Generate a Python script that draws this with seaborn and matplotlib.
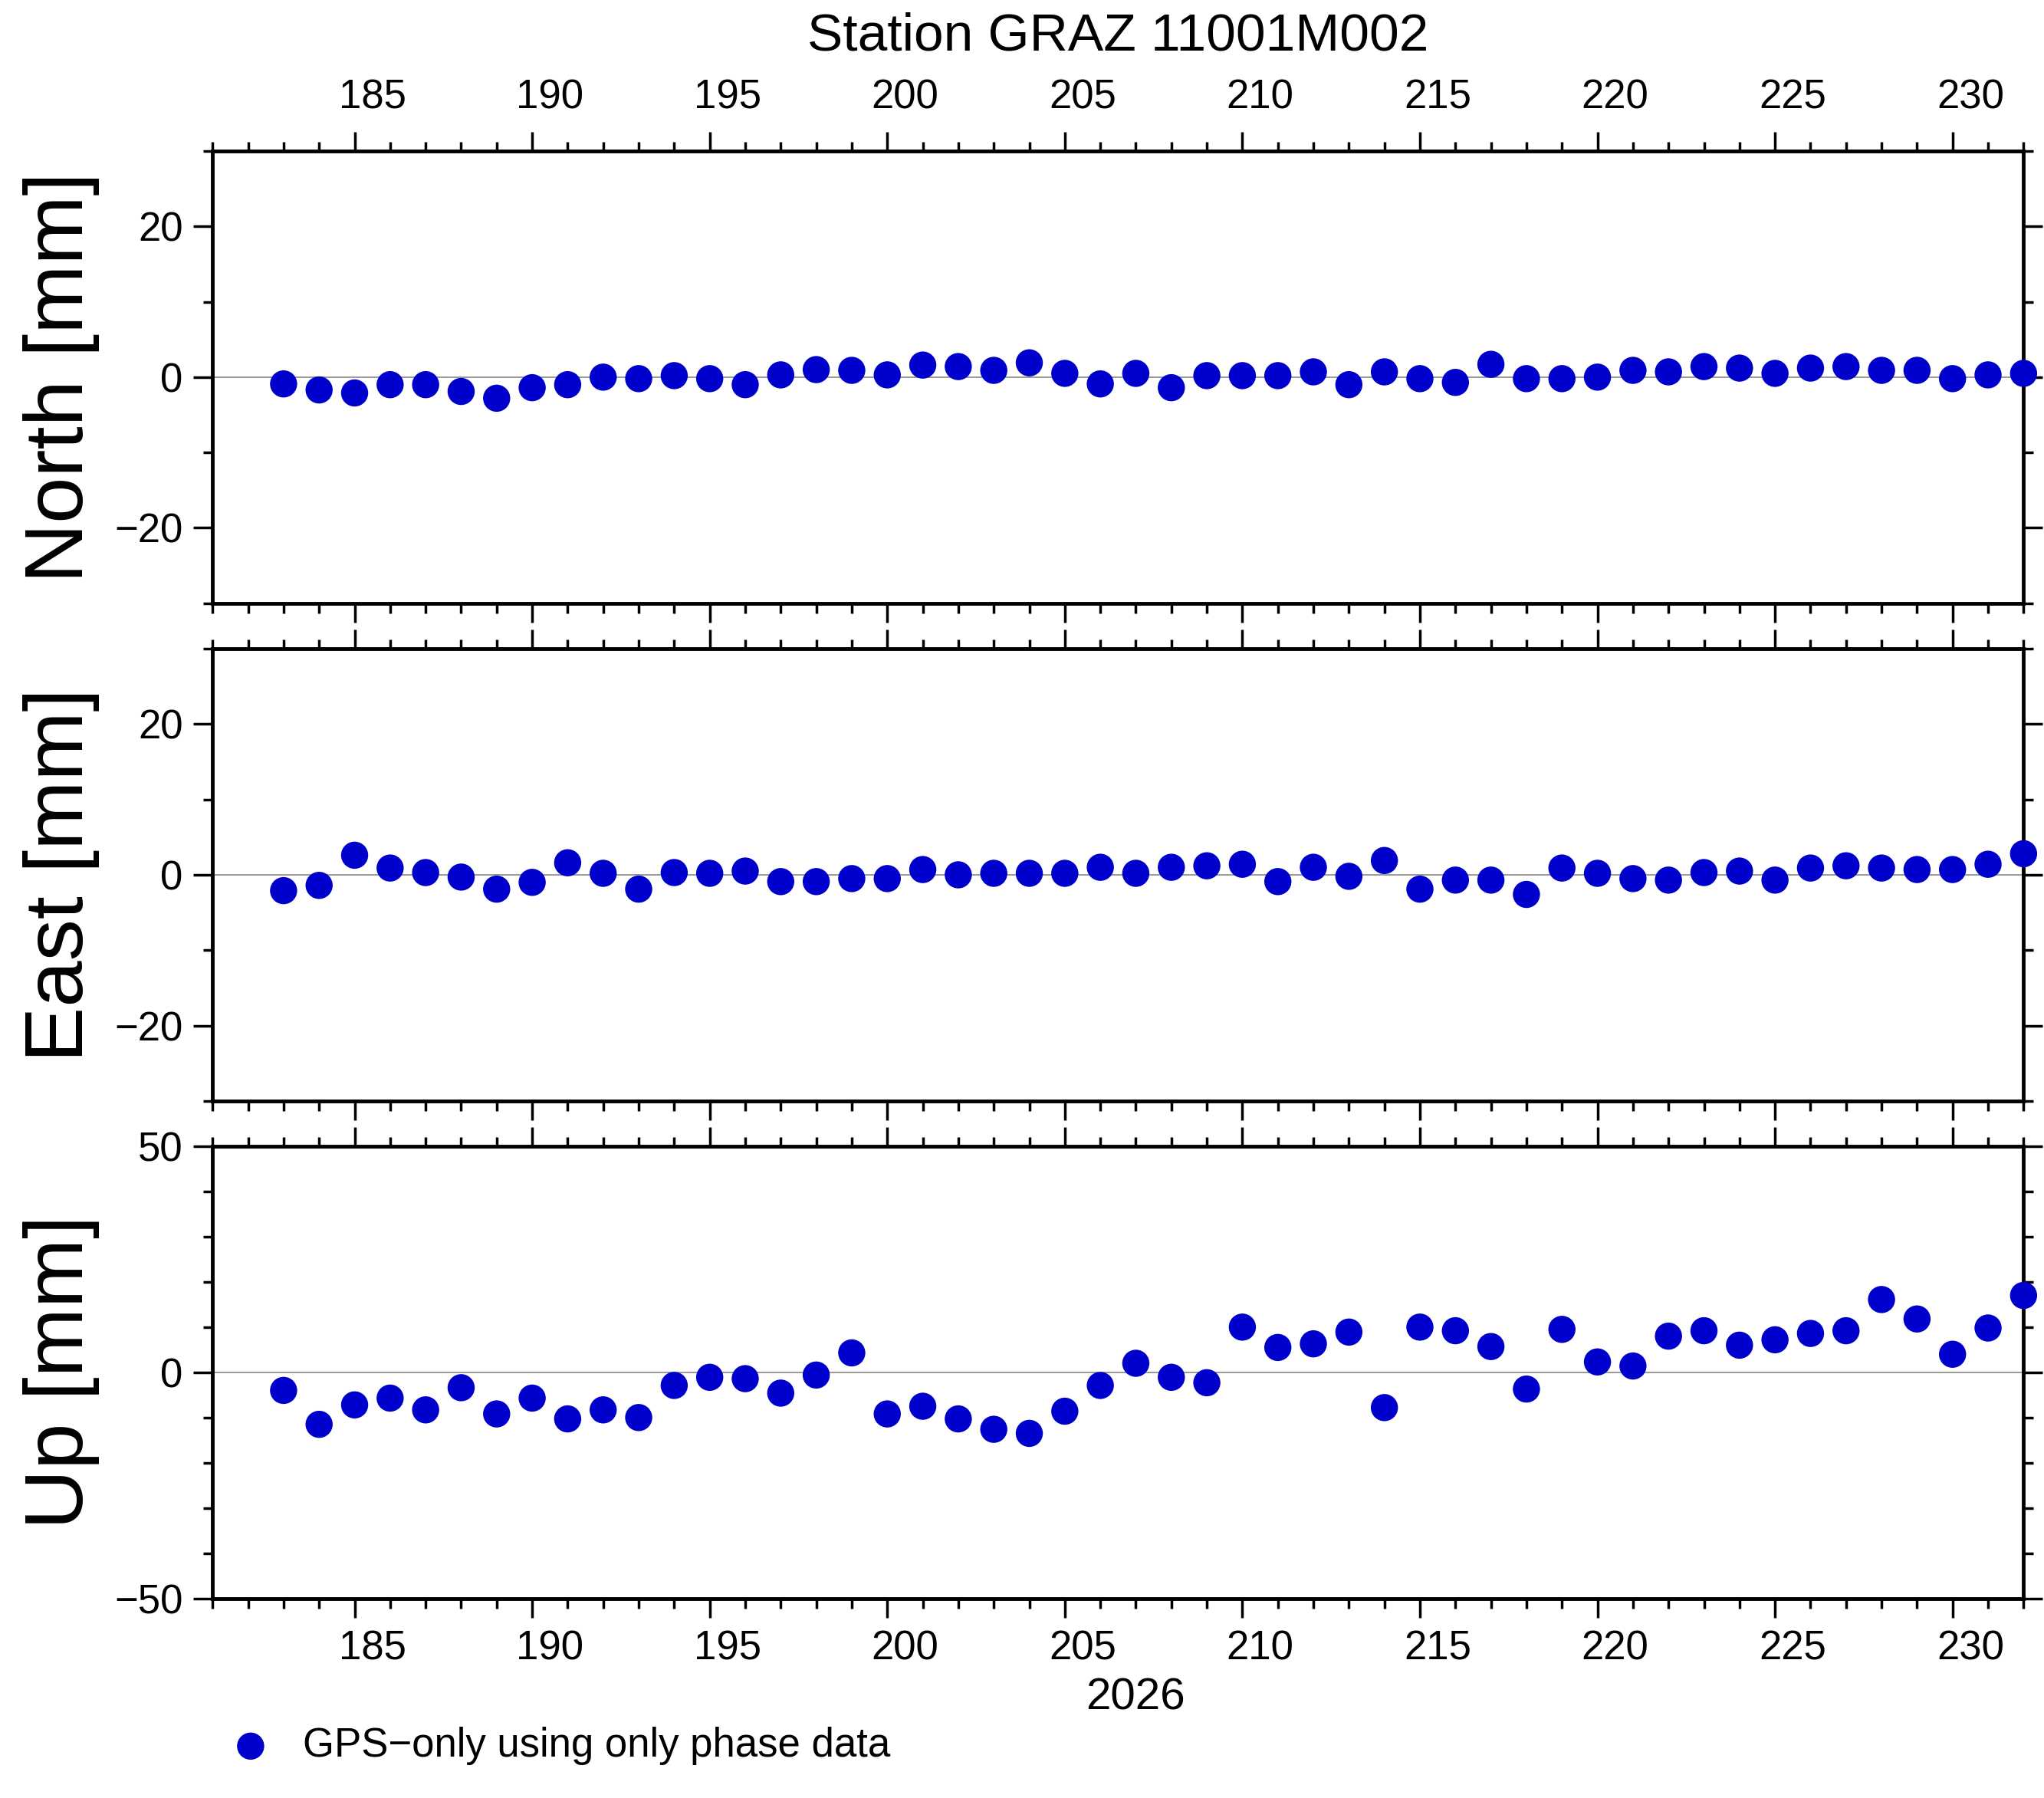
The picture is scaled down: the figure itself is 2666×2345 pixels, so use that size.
import matplotlib
matplotlib.use('Agg')
import matplotlib.pyplot as plt
import matplotlib.transforms as mtrans
import numpy as np
import pandas as pd
import seaborn as sns

sns.set_style('ticks')
plt.rcParams['font.family'] = ['Liberation Sans', 'DejaVu Sans']
plt.rcParams['text.color'] = 'black'
plt.rcParams['axes.labelcolor'] = 'black'
plt.rcParams['xtick.color'] = 'black'
plt.rcParams['ytick.color'] = 'black'
plt.rcParams['axes.edgecolor'] = 'black'

dias = list(range(183, 233))
norte = [-0.9, -1.7, -2.1, -1, -1, -1.9, -2.8, -1.4, -1, 0, -0.2, 0.2, -0.2, -1, 0.3, 1, 0.9, 0.3, 1.6, 1.4,
         0.9, 1.9, 0.5, -0.9, 0.5, -1.4, 0.2, 0.2, 0.2, 0.7, -1, 0.7, -0.2, -0.7, 1.7, -0.2, -0.2, 0, 0.9, 0.7,
         1.4, 1.2, 0.5, 1.2, 1.4, 0.9, 0.9, -0.2, 0.3, 0.5]
este = [-2.1, -1.4, 2.6, 0.9, 0.3, -0.3, -1.9, -1, 1.6, 0.2, -1.9, 0.3, 0.2, 0.5, -0.9, -0.9, -0.5, -0.5, 0.7, 0,
        0.2, 0.2, 0.2, 1, 0.2, 1, 1.2, 1.4, -0.9, 1, -0.2, 1.9, -1.9, -0.7, -0.7, -2.6, 0.9, 0.2, -0.5, -0.7,
        0.3, 0.5, -0.7, 0.9, 1.2, 0.9, 0.7, 0.7, 1.4, 2.8]
arriba = [-4, -11.5, -7.2, -5.7, -8.3, -3.4, -9.2, -5.7, -10.3, -8.3, -10, -2.9, -1.1, -1.4, -4.6, -0.6, 4.3,
          -9.2, -7.5, -10.3, -12.6, -13.5, -8.6, -2.9, 2, -1.1, -2.3, 10, 5.5, 6.3, 8.9, -7.8, 10, 9.2, 5.7,
          -3.7, 9.5, 2.3, 1.4, 8, 9.2, 6, 7.2, 8.6, 9.2, 16.1, 11.8, 4, 9.8, 17]

df = pd.DataFrame({'Dia': dias, 'North': norte, 'East': este, 'Up': arriba})

fig = plt.figure(figsize=(26.66, 23.45), dpi=100)
paneles = [('North', 0.6645, 30, 20, 10), ('East', 0.3877, 30, 20, 10), ('Up', 0.111, 50, 50, 10)]
alto = 0.2515
color = '#0000CC'
etiquetas = list(range(185, 231, 5))

for i, (nombre, y0, lim, mayor, menor) in enumerate(paneles):
    ax = fig.add_axes([0.104, y0, 0.886, alto])
    ax.axhline(0, color='#888888', lw=1.2, zorder=1)
    sns.scatterplot(data=df, x='Dia', y=nombre, ax=ax, s=650, color=color, edgecolor='none',
                    zorder=3, clip_on=False, label='GPS\u2212only using only phase data' if i == 0 else None)
    ax.set_xlim(181, 232)
    ax.set_ylim(-lim, lim)
    ax.set_xticks(etiquetas)
    ax.set_xticks(range(181, 233), minor=True)
    ax.set_xticklabels([])
    ax.set_yticks(np.arange(-lim + (lim % mayor), lim + 1, mayor))
    ax.set_yticks(np.arange(-lim, lim + 1, menor), minor=True)
    ax.yaxis.set_major_formatter(matplotlib.ticker.FuncFormatter(lambda v, p: f'{v:.0f}'.replace('-', '\u2212')))
    ax.tick_params(which='both', direction='out', top=True, right=True, width=2.5, labelsize=38, pad=10)
    ax.tick_params(which='major', length=18)
    ax.tick_params(which='minor', length=9)
    for s in ax.spines.values():
        s.set_linewidth(3.5)
    ax.set_xlabel('')
    ax.set_ylabel(f'{nombre} [mm]', fontsize=78, labelpad=14)
    tr = mtrans.blended_transform_factory(ax.transData, ax.transAxes)
    if i == 0:
        for e in etiquetas:
            ax.text(e + 0.5, 1.075, str(e), transform=tr, ha='center', va='bottom', fontsize=38)
        ax.set_title('Station GRAZ 11001M002', fontsize=50, pad=95)
        h, l = ax.get_legend_handles_labels()
        ax.get_legend().remove()
    if i == 2:
        for e in etiquetas:
            ax.text(e + 0.5, -0.07, str(e), transform=tr, ha='center', va='top', fontsize=38)
        ax.text(207, -0.175, '2026', transform=tr, ha='center', va='top', fontsize=42)

fig.legend(h, l, loc='lower left', bbox_to_anchor=(0.085, -0.002), frameon=False, fontsize=38,
           handletextpad=0.3, markerscale=1.0)
fig.savefig('out.png', dpi=100)
